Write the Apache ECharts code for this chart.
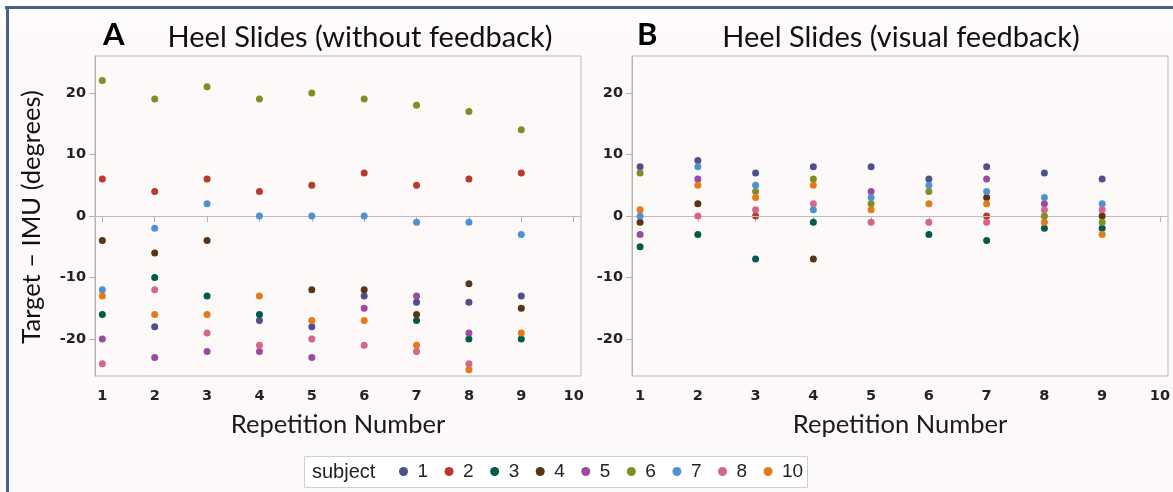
<!DOCTYPE html>
<html>
<head>
<meta charset="utf-8">
<script src="https://cdn.jsdelivr.net/npm/echarts@6/dist/echarts.min.js"></script>
<style>
  body { margin: 0; background: #fdf9f8; }
  #chart { width: 1173px; height: 492px; }
</style>
</head>
<body>
<div id="chart"></div>
<script>
// repetition 1..9, one array per subject, null = point hidden/not visible
const reps = [1, 2, 3, 4, 5, 6, 7, 8, 9];
const subjects = ['1', '2', '3', '4', '5', '6', '7', '8', '10'];
const colors = ['#4f4f8b', '#b83a2b', '#005c4c', '#5b3414', '#9b4aa0', '#818d26', '#4f92cd', '#d3668a', '#e57a1c'];
const yTicks = [-20, -10, 0, 10, 20];
const xTicks = [1, 2, 3, 4, 5, 6, 7, 8, 9, 10];

// A: without feedback
const noFeedback = {
  '1':  [null, -18, null, -17, -18, -13, -14, -14, -13],
  '2':  [6, 4, 6, 4, 5, 7, 5, 6, 7],
  '3':  [-16, -10, -13, -16, null, null, -17, -20, -20],
  '4':  [-4, -6, -4, null, -12, -12, -16, -11, -15],
  '5':  [-20, -23, -22, -22, -23, -15, -13, -19, null],
  '6':  [22, 19, 21, 19, 20, 19, 18, 17, 14],
  '7':  [-12, -2, 2, 0, 0, 0, -1, -1, -3],
  '8':  [-24, -12, -19, -21, -20, -21, -22, -24, null],
  '10': [-13, -16, -16, -13, -17, -17, -21, -25, -19]
};

// B: visual feedback
const visualFeedback = {
  '1':  [8, 9, 7, 8, 8, 6, 8, 7, 6],
  '2':  [null, null, 0, null, null, null, 0, null, null],
  '3':  [-5, -3, -7, -1, null, -3, -4, -2, -2],
  '4':  [-1, 2, null, -7, null, null, 3, null, 0],
  '5':  [-3, 6, null, null, 4, null, 6, 2, null],
  '6':  [7, null, 4, 6, 2, 4, null, 0, -1],
  '7':  [0, 8, 5, 1, 3, 5, 4, 3, 2],
  '8':  [null, 0, 1, 2, -1, -1, -1, 1, 1],
  '10': [1, 5, 3, 5, 1, 2, 2, -1, -3]
};

const titleFont = 'Lato, "Open Sans", sans-serif';
const tickFont = { fontFamily: '"DejaVu Sans", sans-serif', fontWeight: 'bold', fontSize: 14.5, color: '#222' };

function xAxis(gridIndex) {
  return {
    type: 'value', gridIndex, min: 0.86, max: 10.14,
    name: 'Repetition Number', nameLocation: 'middle', nameGap: 36,
    nameTextStyle: { fontFamily: titleFont, fontSize: 25.5, color: '#1a1a1a' },
    axisLine: { lineStyle: { color: '#b3b3b3' } },
    axisTick: { show: true, length: 6, lineStyle: { color: '#b3b3b3' }, customValues: xTicks },
    axisLabel: Object.assign({ margin: 13, customValues: xTicks }, tickFont),
    splitLine: { show: false }
  };
}

function yAxis(gridIndex) {
  return {
    type: 'value', gridIndex, min: -26, max: 26,
    axisLine: { show: true, lineStyle: { color: '#b3b3b3' } },
    axisTick: { show: true, length: 6, lineStyle: { color: '#b3b3b3' }, customValues: yTicks },
    axisLabel: Object.assign({ margin: 9, customValues: yTicks }, tickFont),
    splitLine: { show: false }
  };
}

function panelSeries(table, idx) {
  const out = [{
    type: 'line', xAxisIndex: idx, yAxisIndex: idx, data: [], z: 1, silent: true,
    markLine: {
      silent: true, symbol: 'none', label: { show: false },
      lineStyle: { color: '#bdbdbd', width: 1, type: 'solid' },
      data: [{ yAxis: 0 }]
    }
  }];
  subjects.forEach((s, i) => {
    out.push({
      name: s, type: 'scatter', xAxisIndex: idx, yAxisIndex: idx, z: 2 + i,
      symbolSize: 7,
      itemStyle: { color: colors[i], opacity: 1 },
      data: reps.map((r, k) => [r, table[s][k]]).filter(d => d[1] !== null)
    });
  });
  return out;
}

const chart = echarts.init(document.getElementById('chart'));
chart.setOption({
  backgroundColor: '#fdf9f8',
  animation: false,
  color: colors,
  grid: [
    { left: 95, top: 56, width: 486, height: 320, show: true, backgroundColor: '#fdf9f8', borderColor: '#b8b8b8', borderWidth: 1 },
    { left: 632, top: 56, width: 536, height: 320, show: true, backgroundColor: '#fdf9f8', borderColor: '#b8b8b8', borderWidth: 1 }
  ],
  xAxis: [xAxis(0), xAxis(1)],
  yAxis: [yAxis(0), yAxis(1)],
  legend: {
    data: subjects, left: 399, top: 462, padding: 0,
    icon: 'circle', itemWidth: 18, itemHeight: 9, itemGap: 16.5,
    textStyle: { fontFamily: '"Liberation Sans Narrow", "Liberation Sans", sans-serif', fontSize: 19, color: '#222' },
    selectedMode: false
  },
  graphic: [
    { type: 'rect', z: -10, shape: { x: 0, y: 0, width: 1173, height: 42 },
      style: { fill: new echarts.graphic.LinearGradient(0, 0, 0, 1, [{ offset: 0, color: '#ffffff' }, { offset: 1, color: '#fdf9f8' }]) } },
    { type: 'rect', z: 10, shape: { x: 5, y: 6, width: 1168, height: 3 }, style: { fill: '#46618a' } },
    { type: 'rect', z: 10, shape: { x: 6, y: 6, width: 3, height: 486 }, style: { fill: '#46618a' } },
    { type: 'text', left: 103, top: 19, style: { text: 'A', font: 'bold 31px ' + titleFont, fill: '#000' } },
    { type: 'text', x: 360, y: 38, style: { text: 'Heel Slides (without feedback)', font: '29px ' + titleFont, fill: '#111', textAlign: 'center', textVerticalAlign: 'middle' } },
    { type: 'text', left: 637, top: 19, style: { text: 'B', font: 'bold 31px ' + titleFont, fill: '#000' } },
    { type: 'text', x: 901, y: 38, style: { text: 'Heel Slides (visual feedback)', font: '29px ' + titleFont, fill: '#111', textAlign: 'center', textVerticalAlign: 'middle' } },
    { type: 'text', x: 32, y: 217, rotation: Math.PI / 2, style: { text: 'Target \u2013 IMU (degrees)', font: '25.5px ' + titleFont, fill: '#111', textAlign: 'center', textVerticalAlign: 'middle' } },
    { type: 'rect', z: -1, shape: { x: 304.5, y: 456.5, width: 503, height: 31 }, style: { fill: '#ffffff', stroke: '#cfcfcf', lineWidth: 1 } },
    { type: 'text', x: 312, y: 472, style: { text: 'subject', font: '20px "Liberation Sans Narrow", "Liberation Sans", sans-serif', fill: '#222', textVerticalAlign: 'middle' } }
  ],
  series: panelSeries(noFeedback, 0).concat(panelSeries(visualFeedback, 1))
});
</script>
</body>
</html>
